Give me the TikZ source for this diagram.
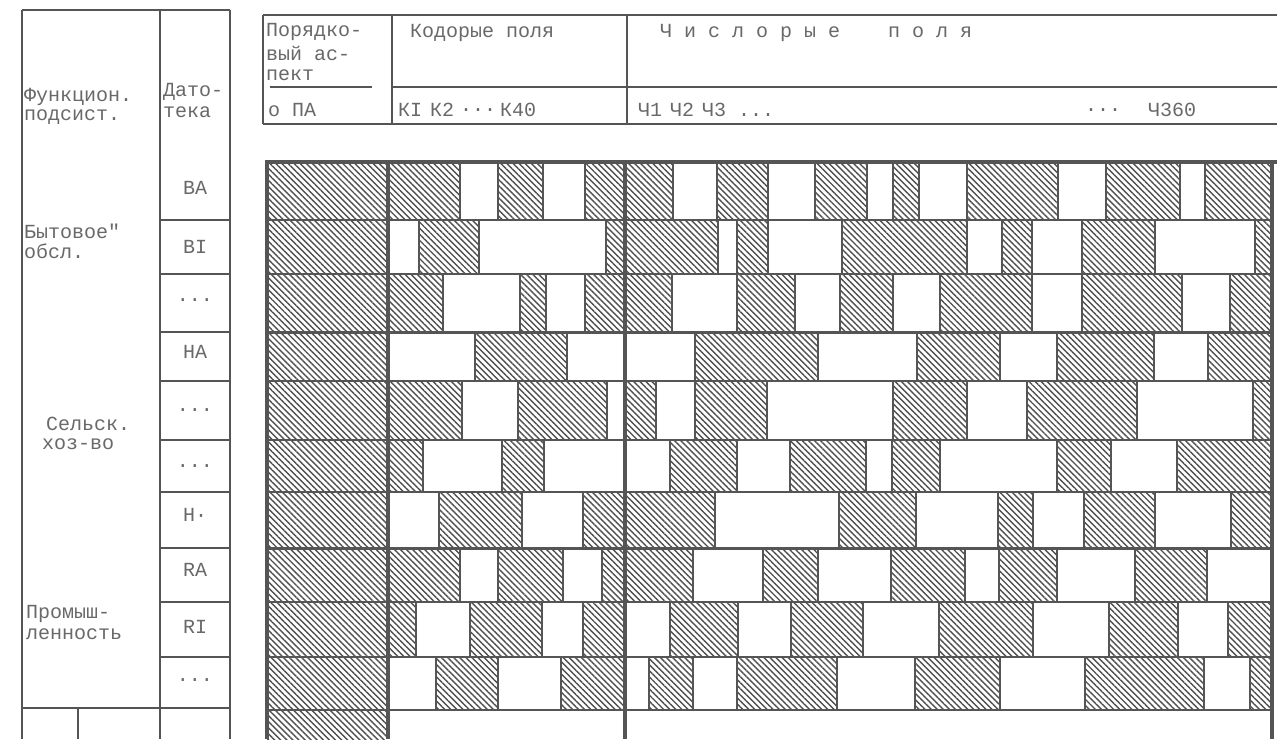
\documentclass[tikz,border=0pt]{standalone}
\usepackage{fontspec}
\setmonofont{Liberation Mono}
\usepackage{tikz}
\usetikzlibrary{patterns.meta}
\definecolor{InkGray}{RGB}{85,85,85}
\definecolor{TypeGray}{RGB}{105,105,105}
\definecolor{HatchGray}{RGB}{80,80,80}
\newcommand{\tdots}{...}

\begin{document}
\begin{tikzpicture}[
    x=1pt, y=-1pt,
    rule/.style={draw=InkGray, line width=2pt},
    midrule/.style={draw=InkGray, line width=3pt},
    boldrule/.style={draw=InkGray, line width=3.8pt},
    hatch/.style={pattern={Lines[angle=-45,distance=4.3pt,line width=1.4pt]},
                  pattern color=HatchGray},
    txt/.style={font=\ttfamily\fontsize{20}{20}\selectfont, text=TypeGray,
                inner sep=0pt, anchor=west},
    lbl/.style={txt, anchor=center},
]

% ── Page ──
\useasboundingbox (0,0) rectangle (1277,739);
\fill[white] (0,0) rectangle (1277,739);

% ── Hatched first column ──
\fill[hatch] (267,162) rectangle (388,739);

% ── Hatched cells: top/bottom/{left/right spans} ──
\foreach \ytop/\ybot/\spans in {
    162/220/{388/460,498/543,585/625,625/673,717/768,815/867,893/919,967/1058,1106/1180,1205/1272},
    220/274/{419/479,606/625,625/718,737/768,842/967,1002/1032,1082/1155,1255/1272},
    274/332/{388/443,520/546,585/625,625/672,737/795,840/893,940/1032,1082/1182,1230/1272},
    332/381/{475/567,695/818,917/1000,1057/1154,1208/1272},
    381/440/{388/462,518/607,625/656,695/767,893/967,1027/1137,1253/1272},
    440/492/{388/423,502/544,670/737,790/866,892/940,1057/1111,1177/1272},
    492/548/{439/522,583/625,625/715,839/916,998/1033,1084/1155,1231/1272},
    548/602/{388/460,498/563,602/625,625/693,763/818,891/965,999/1057,1135/1207},
    602/657/{388/416,470/542,583/625,670/738,791/863,939/1033,1109/1178,1228/1272},
    657/710/{436/498,561/625,649/693,737/837,915/1000,1085/1204,1250/1272}}
{
    \foreach \xa/\xb in \spans {
        \fill[hatch] (\xa,\ytop) rectangle (\xb,\ybot);
        \draw[rule] (\xa,\ytop) -- (\xa,\ybot) (\xb,\ytop) -- (\xb,\ybot);
    }
}

% ── Grid rows ──
\foreach \y in {220,274,381,440,492,602,657,710}
    \draw[rule] (267,\y) -- (1272,\y);
\foreach \y in {332,548}
    \draw[midrule] (267,\y) -- (1272,\y);

% ── Grid frame ──
\draw[boldrule] (265,162) -- (1277,162);
\foreach \x in {267,388,625,1272}
    \draw[boldrule] (\x,162) -- (\x,739);

% ── Header table ──
\draw[rule] (263,15) -- (1277,15);
\draw[rule] (263,124) -- (1277,124);
\draw[rule] (392,87) -- (1277,87);
\draw[rule] (270,87) -- (372,87);
\foreach \x in {263,392,627}
    \draw[rule] (\x,15) -- (\x,124);

\node[txt] (aspA) at (266,32) {Порядко-};
\node[txt] (aspB) at (266,53) {вый ас-};
\node[txt] (aspC) at (266,75) {пект};
\node[txt] (aspD) at (268,110) {о ПА};
\node[txt] (codeHead) at (410,33) {Кодорые поля};
\node[txt] (numHead) at (660,33) {Ч и с л о р ы е\ \ \ \ п о л я};
\node[txt] (codeA) at (398,110) {КI};
\node[txt] (codeB) at (430,110) {К2};
\node[txt] (codeC) at (460,110) {...};
\node[txt] (codeD) at (500,110) {К40};
\node[txt] (numA) at (638,110) {Ч1};
\node[txt] (numB) at (670,110) {Ч2};
\node[txt] (numC) at (702,110) {Ч3 ...};
\node[txt] (numD) at (1085,110) {...};
\node[txt] (numE) at (1148,110) {Ч360};

% ── Left table ──
\draw[rule] (22,10) -- (230,10);
\draw[rule, line width=2.6pt] (22,10) -- (22,739);
\draw[rule] (160,10) -- (160,739);
\draw[rule] (230,10) -- (230,739);
\foreach \y in {220,274,332,381,440,492,548,602,657}
    \draw[rule] (160,\y) -- (230,\y);
\draw[rule] (22,708) -- (230,708);
\draw[rule] (78,708) -- (78,739);

\node[txt] (subA) at (24,97) {Функцион.};
\node[txt] (subB) at (24,117) {подсист.};
\node[txt] (fileA) at (163,92) {Дато-};
\node[txt] (fileB) at (163,112) {тека};

\node[txt] (grpBa) at (24,231) {Бытовое"};
\node[txt] (grpBb) at (24,251) {обсл.};
\node[txt] (grpSa) at (46,424) {Сельск.};
\node[txt] (grpSb) at (42,444) {хоз-во};
\node[txt] (grpPa) at (26,614) {Промыш-};
\node[txt] (grpPb) at (26,634) {ленность};

\foreach \name/\y/\tag in {fBA/188/BA, fBI/247/BI, fBd/300/\tdots, fHA/352/HA,
                          fHd/410/\tdots, fHe/466/\tdots, fHI/515/H·, fRA/570/RA,
                          fRI/627/RI, fRd/680/\tdots}
    \node[lbl] (\name) at (195,\y) {\tag};

\end{tikzpicture}
\end{document}
